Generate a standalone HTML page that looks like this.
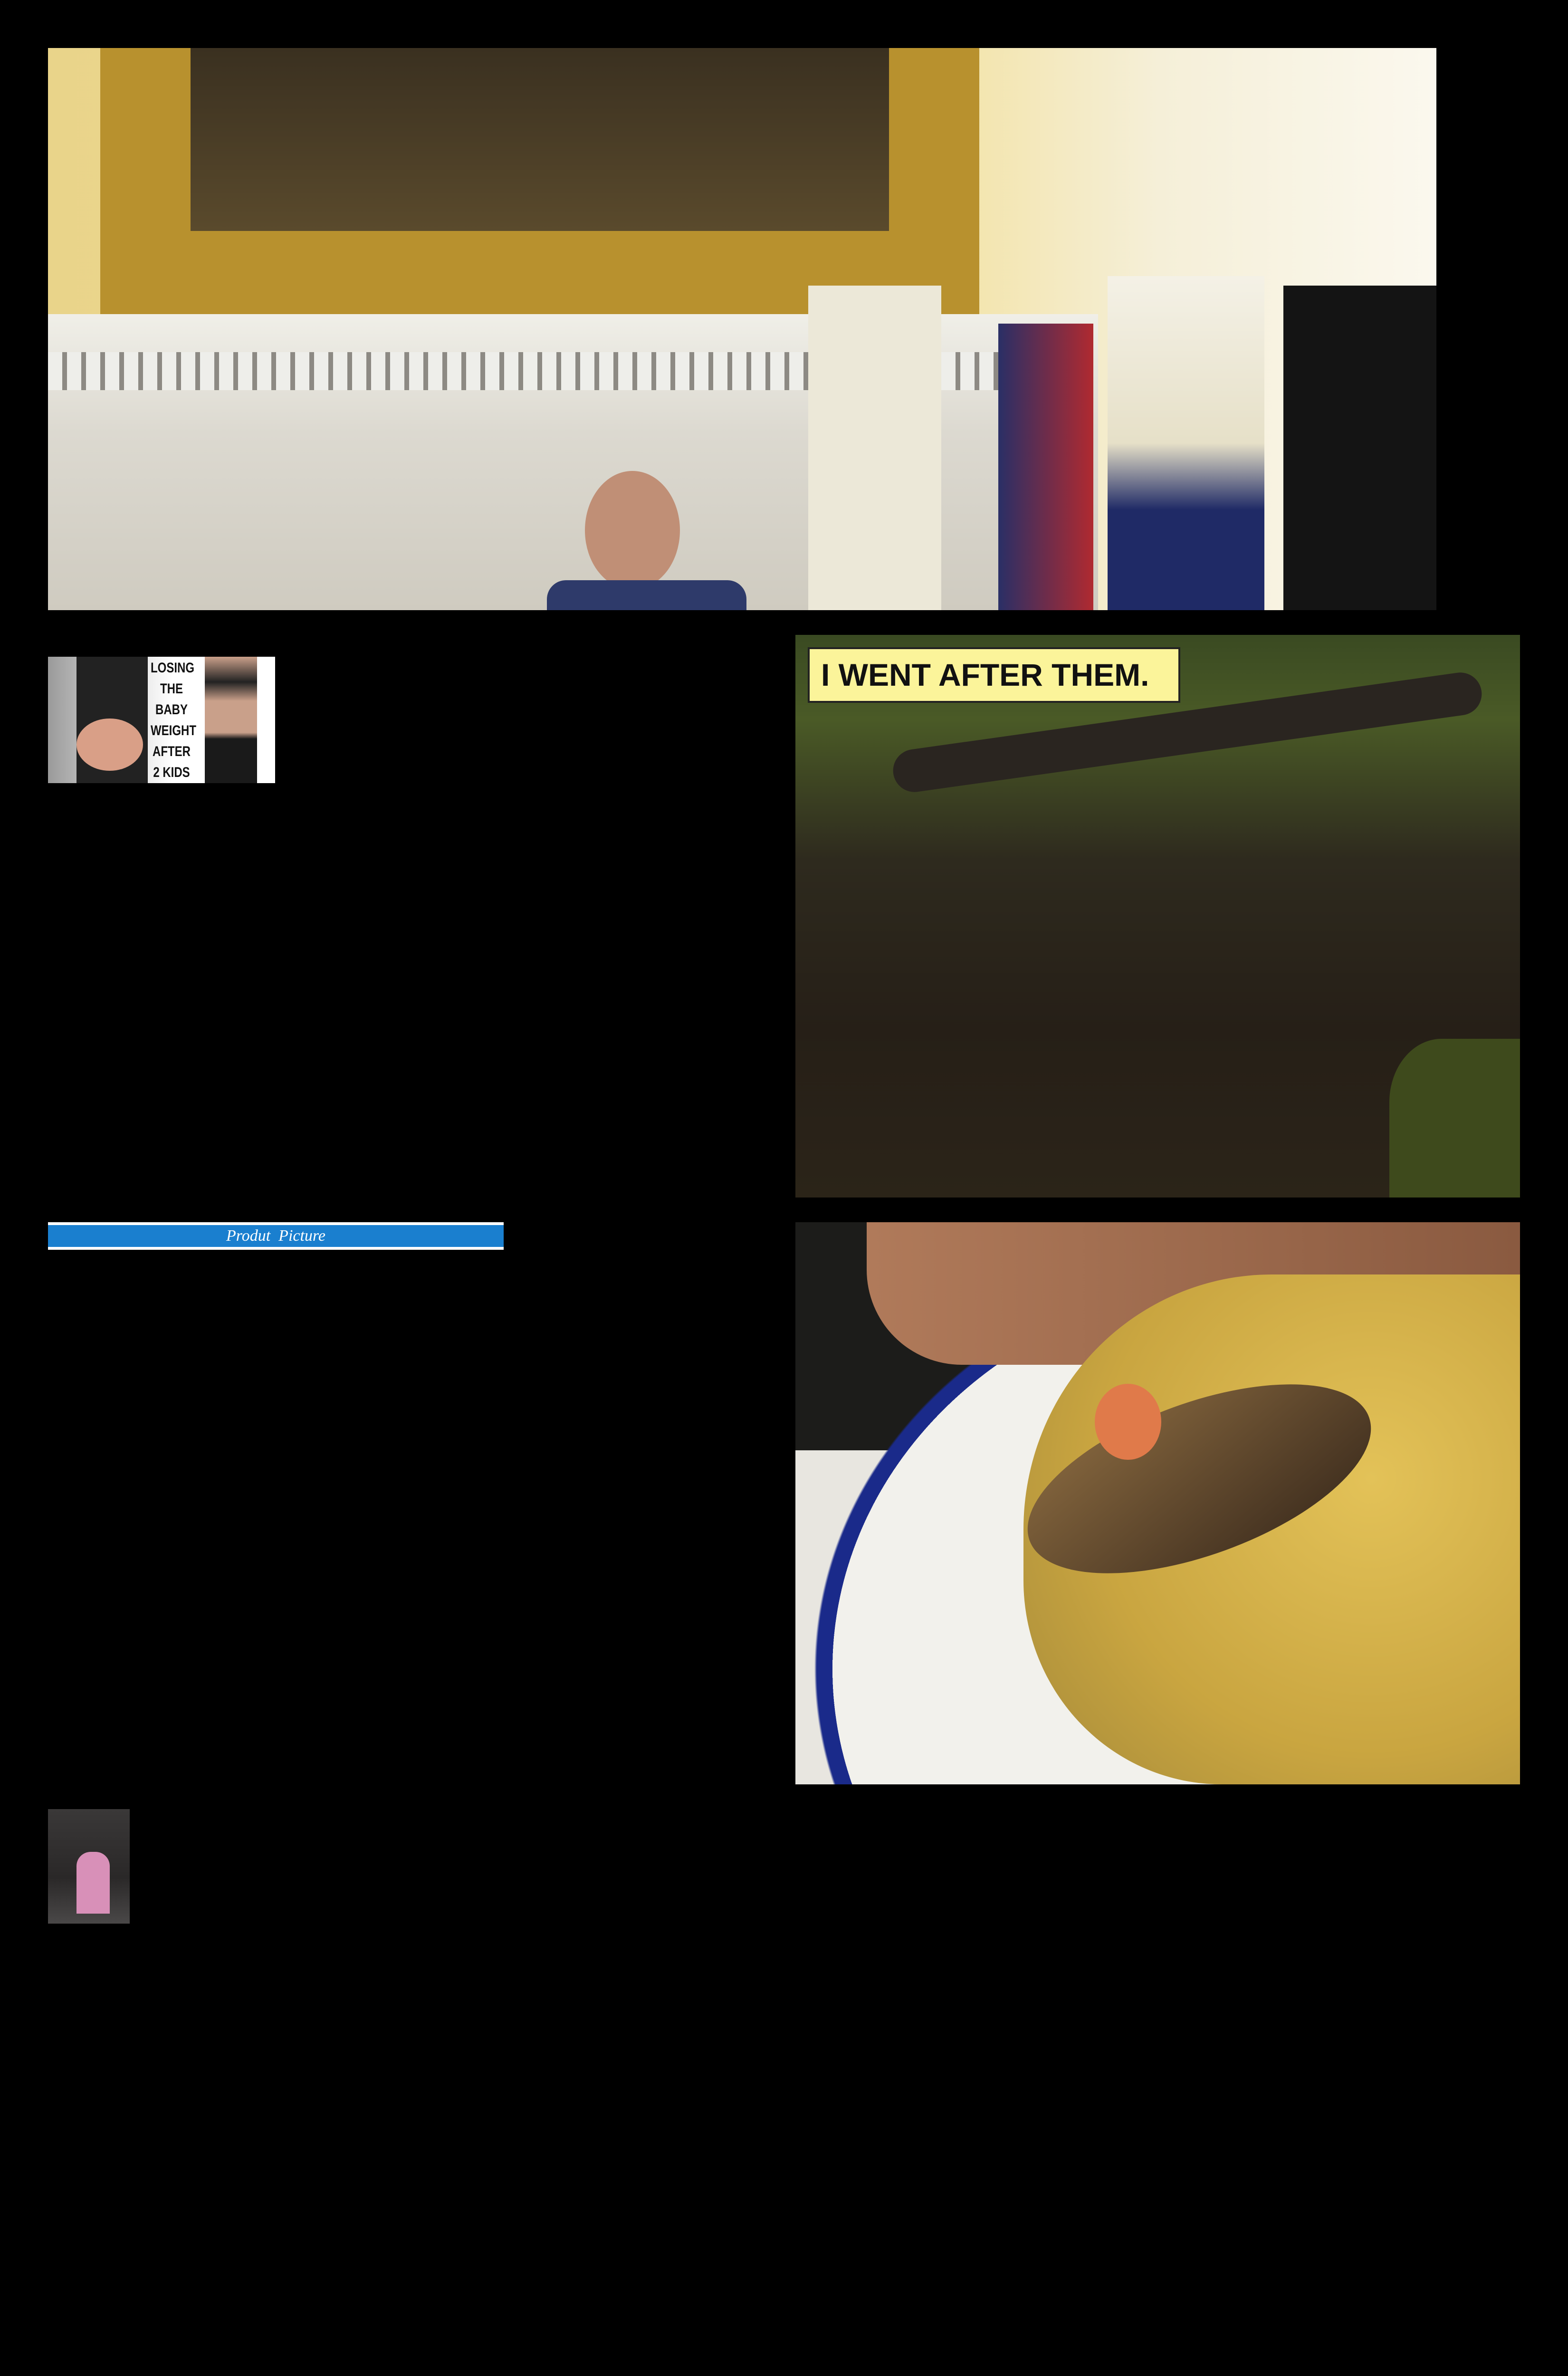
<!DOCTYPE html>
<html><head><meta charset="utf-8"><style>
html{margin:0;padding:0;width:100%;height:100%;overflow:hidden;background:#000;}
body{margin:0;padding:0;background:#000;width:100%;height:100%;position:relative;overflow:hidden;font-family:"Liberation Sans",sans-serif;}
.p{position:absolute;overflow:hidden;}
</style></head><body>

<div class="p" style="left:101px;top:101px;width:2922px;height:1183px;background:linear-gradient(90deg,#e9d48a 0%,#f2e09a 60%,#f5efd8 80%,#fbf8ee 100%);">
  <div style="position:absolute;left:110px;top:0;width:1850px;height:560px;background:#b8912e;"></div>
  <div style="position:absolute;left:300px;top:0;width:1470px;height:385px;background:linear-gradient(180deg,#3a3020,#5a4a2c);"></div>
  <div style="position:absolute;left:0;top:560px;width:2210px;height:623px;background:linear-gradient(180deg,#f0efe8 0%,#dcd9d0 40%,#cfcbc0 100%);"></div>
  <div style="position:absolute;left:0;top:640px;width:2100px;height:80px;background:repeating-linear-gradient(90deg,#eeeeea 0 30px,#8d8a84 30px 40px);"></div>
  <div style="position:absolute;left:1600px;top:500px;width:280px;height:683px;background:#ece8d8;"></div>
  <div style="position:absolute;left:2000px;top:580px;width:200px;height:603px;background:linear-gradient(90deg,#2a2f66,#b02a30);"></div>
  <div style="position:absolute;left:2230px;top:480px;width:330px;height:703px;background:linear-gradient(180deg,#f4f1e6 0%,#e6e0c8 50%,#1f2a66 70%,#1f2a66 100%);"></div>
  <div style="position:absolute;left:2600px;top:500px;width:322px;height:683px;background:#141414;"></div>
  <div style="position:absolute;left:1130px;top:890px;width:200px;height:250px;border-radius:50%;background:#c08f76;"></div>
  <div style="position:absolute;left:1050px;top:1120px;width:420px;height:63px;border-radius:40px 40px 0 0;background:#2e3a6a;"></div>
</div>

<div class="p" style="left:101px;top:1382px;width:478px;height:266px;background:linear-gradient(90deg,#9a9a9a 0%,#cfcfcf 25%,#fff 55%,#fff 100%);">
  <div style="position:absolute;left:60px;top:0;width:150px;height:266px;background:#222;"></div>
  <div style="position:absolute;left:60px;top:130px;width:140px;height:110px;border-radius:50%;background:#d99f87;"></div>
  <div style="position:absolute;left:205px;top:2px;width:110px;font:bold 30px 'Liberation Sans',sans-serif;line-height:44px;color:#111;text-align:center;transform:scaleX(.8);">LOSING THE BABY WEIGHT AFTER 2 KIDS</div>
  <div style="position:absolute;left:330px;top:0;width:110px;height:266px;background:linear-gradient(180deg,#caa08a 0%,#222 20%,#c9a08a 35%,#c9a08a 60%,#1a1a1a 65%);"></div>
</div>

<div class="p" style="left:1674px;top:1336px;width:1525px;height:1184px;background:linear-gradient(180deg,#3a4a22 0%,#4a5a26 15%,#2e2a1e 40%,#261f17 70%,#2b2418 100%);">
  <div style="position:absolute;left:200px;top:160px;width:1250px;height:90px;border-radius:45px;background:#2a2520;transform:rotate(-8deg);"></div>
  <div style="position:absolute;left:1250px;top:850px;width:275px;height:334px;background:#3e4a1c;border-radius:40% 0 0 0;"></div>
  <div style="position:absolute;left:26px;top:26px;width:784px;height:117px;background:#fbf49a;border:4px solid #222;box-sizing:border-box;font:bold 66px 'Liberation Sans',sans-serif;line-height:109px;padding-left:24px;color:#111;white-space:nowrap;">I WENT AFTER THEM.</div>
</div>

<div class="p" style="left:101px;top:2572px;width:959px;height:58px;background:#1a7fcf;border-top:6px solid #fff;border-bottom:6px solid #fff;box-sizing:border-box;text-align:center;color:#fff;font:italic 34px 'Liberation Serif',serif;line-height:46px;">Produt&nbsp; Picture</div>

<div class="p" style="left:1674px;top:2572px;width:1525px;height:1183px;background:#1c1c1a;">
  <div style="position:absolute;left:0;top:480px;width:700px;height:703px;background:#e8e6e0;"></div>
  <div style="position:absolute;left:0;top:0;width:1525px;height:1183px;background:radial-gradient(ellipse 950px 850px at 990px 940px,#f2f1ec 0,#f2f1ec 96%,#1a2a8a 96%,#1a2a8a 99.5%,transparent 100%);"></div>
  <div style="position:absolute;left:150px;top:0;width:1375px;height:300px;border-radius:0 0 0 200px;background:linear-gradient(90deg,#b07a5a,#8a5a40);"></div>
  <div style="position:absolute;left:480px;top:110px;width:1045px;height:1073px;border-radius:50% 0 0 40%;background:radial-gradient(circle at 70% 40%,#e3c258,#c9a540 60%,#a58a3a);"></div>
  <div style="position:absolute;left:470px;top:380px;width:760px;height:320px;border-radius:50%;background:linear-gradient(160deg,#8a6a40,#3a2a1c);transform:rotate(-20deg);"></div>
  <div style="position:absolute;left:630px;top:340px;width:140px;height:160px;border-radius:50%;background:#e07a4a;"></div>
</div>

<div class="p" style="left:101px;top:3807px;width:172px;height:241px;background:linear-gradient(180deg,#3a3838 0%,#2a2828 60%,#4a4848 100%);">
  <div style="position:absolute;left:60px;top:90px;width:70px;height:130px;background:#d890b8;border-radius:30px 30px 0 0;"></div>
</div>

</body></html>
